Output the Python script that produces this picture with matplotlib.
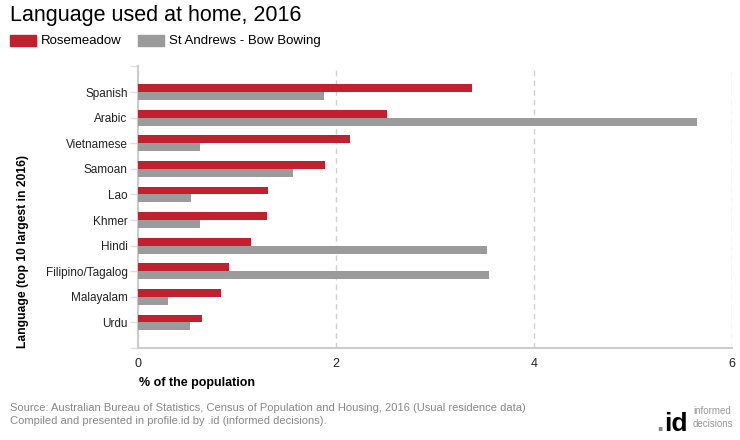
import numpy as np
import matplotlib.pyplot as plt

plt.rcParams["font.family"] = ["Liberation Sans", "DejaVu Sans"]

# data (% of the population)
languages = ["Spanish", "Arabic", "Vietnamese", "Samoan", "Lao", "Khmer",
             "Hindi", "Filipino/Tagalog", "Malayalam", "Urdu"]
rosemeadow = [3.37, 2.52, 2.14, 1.89, 1.31, 1.30, 1.14, 0.92, 0.84, 0.65]
st_andrews = [1.88, 5.65, 0.63, 1.57, 0.54, 0.63, 3.53, 3.55, 0.30, 0.53]
series_names = ["Rosemeadow", "St Andrews - Bow Bowing"]
x_ticks = [0, 2, 4, 6]

RED = "#C1202F"
GREY = "#9B9B9B"
AXIS = "#CCCCCC"

fig = plt.figure(figsize=(7.4, 4.4), dpi=100)
ax = fig.add_axes([0.1865, 0.209, 0.8025, 0.640])

pos = np.arange(len(languages))
h = 0.31
ax.barh(pos - h / 2, rosemeadow, height=h, color=RED, zorder=3)
ax.barh(pos + h / 2, st_andrews, height=h, color=GREY, zorder=3)

ax.set_xlim(0, 6)
ax.set_ylim(len(languages), -1)
ax.set_xticks(x_ticks)
ax.set_xticklabels([str(t) for t in x_ticks], fontsize=9, color="#222222")
ax.set_yticks(np.arange(-1, len(languages) + 1))
ax.set_yticklabels([""] + languages + [""], fontsize=8.5, color="#222222")
ax.tick_params(axis="x", length=0, pad=7)
ax.tick_params(axis="y", length=6, width=1, color="#DDDDDD", pad=1.5)

ax.grid(axis="x", color="#D0D0D0", linestyle=(0, (4, 3)), linewidth=1, zorder=0)
for s in ["top", "right"]:
    ax.spines[s].set_visible(False)
ax.spines["left"].set_color(AXIS)
ax.spines["bottom"].set_color(AXIS)
ax.spines["left"].set_linewidth(1.5)
ax.spines["bottom"].set_linewidth(1.5)

# title and legend
fig.text(10 / 740, 1 - 15 / 440, "Language used at home, 2016", fontsize=15.5,
         color="black", va="center", ha="left")
fig.patches.append(plt.Rectangle((10 / 740, 1 - 46 / 440), 26 / 740, 11 / 440,
                                 transform=fig.transFigure, color=RED))
fig.text(41 / 740, 1 - 41 / 440, series_names[0], fontsize=9.5, va="center")
fig.patches.append(plt.Rectangle((138 / 740, 1 - 46 / 440), 26 / 740, 11 / 440,
                                 transform=fig.transFigure, color=GREY))
fig.text(169 / 740, 1 - 41 / 440, series_names[1], fontsize=9.5, va="center")

# axis titles
fig.text(139 / 740, 1 - 383 / 440, "% of the population", fontsize=9,
         fontweight="bold", va="center", ha="left")
fig.text(23 / 740, 1 - 251 / 440, "Language (top 10 largest in 2016)", fontsize=8.7,
         fontweight="bold", rotation=90, va="center", ha="center")

# footer
fig.text(10 / 740, 1 - 408 / 440,
         "Source: Australian Bureau of Statistics, Census of Population and Housing, 2016 (Usual residence data)",
         fontsize=8, color="#888888", va="center")
fig.text(10 / 740, 1 - 421 / 440,
         "Compiled and presented in profile.id by .id (informed decisions).",
         fontsize=8, color="#888888", va="center")
fig.text(664 / 740, 1 - 431 / 440, ".", fontsize=19, fontweight="bold",
         color="#888888", ha="right", va="baseline")
fig.text(664 / 740, 1 - 431 / 440, "id", fontsize=19, fontweight="bold",
         color="black", ha="left", va="baseline")
fig.text(693 / 740, 1 - 411 / 440, "informed", fontsize=7, color="#999999", va="center")
fig.text(693 / 740, 1 - 424 / 440, "decisions", fontsize=7, color="#999999", va="center")

fig.savefig("out.png", dpi=100)
